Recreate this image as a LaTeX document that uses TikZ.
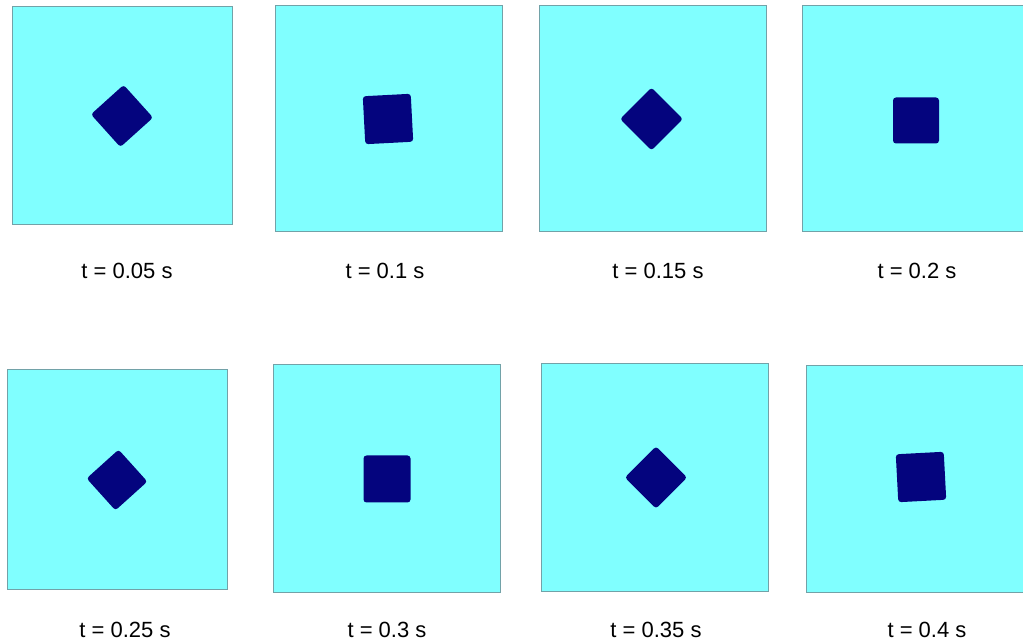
\documentclass[tikz,border=0pt]{standalone}
\usepackage{fontspec}
\setmainfont{Liberation Sans}
\definecolor{panelfill}{HTML}{80FFFF}
\definecolor{paneledge}{HTML}{72A2A8}
\definecolor{blockfill}{HTML}{04047E}
\tikzset{
  panel/.style={draw=paneledge, fill=panelfill, line width=1pt, inner sep=0pt, outer sep=0pt},
  block/.style={fill=blockfill, draw=none, rounded corners=3pt, inner sep=0pt, minimum size=#1},
  tlabel/.style={inner sep=0pt, font=\fontsize{22}{26}\selectfont}
}
\begin{document}
\begin{tikzpicture}[x=1pt,y=1pt]
\useasboundingbox (0,0) rectangle (1023,643);
% panels
\node[panel, minimum width=220pt, minimum height=218pt] (p1) at (122,527) {};
\node[panel, minimum width=227pt, minimum height=226pt] (p2) at (388.5,524) {};
\node[panel, minimum width=227pt, minimum height=226pt] (p3) at (652.5,524) {};
\node[panel, minimum width=224pt, minimum height=226pt] (p4) at (914,524) {};
\node[panel, minimum width=220pt, minimum height=219pt] (p5) at (117,163.5) {};
\node[panel, minimum width=227pt, minimum height=227pt] (p6) at (386.5,164.5) {};
\node[panel, minimum width=227pt, minimum height=227pt] (p7) at (654.5,165.5) {};
\node[panel, minimum width=220pt, minimum height=226pt] (p8) at (916,164) {};
% blocks
\node[block=44pt, rotate=42] (s1) at (122,527) {};
\node[block=48pt, rotate=3] (s2) at (388,524) {};
\node[block=44.5pt, rotate=45] (s3) at (651.5,524) {};
\node[block=46pt] (s4) at (916,522.5) {};
\node[block=43pt, rotate=42] (s5) at (117,163) {};
\node[block=47pt] (s6) at (387,164) {};
\node[block=44pt, rotate=45] (s7) at (656,165.5) {};
\node[block=48pt, rotate=3] (s8) at (921,166) {};
% labels
\node[tlabel] (l1) at (127,372) {t = 0.05 s};
\node[tlabel] (l2) at (385,372) {t = 0.1 s};
\node[tlabel] (l3) at (658,372) {t = 0.15 s};
\node[tlabel] (l4) at (917,372) {t = 0.2 s};
\node[tlabel] (l5) at (125,13) {t = 0.25 s};
\node[tlabel] (l6) at (387,13) {t = 0.3 s};
\node[tlabel] (l7) at (656,13) {t = 0.35 s};
\node[tlabel] (l8) at (927,13) {t = 0.4 s};
\end{tikzpicture}
\end{document}
